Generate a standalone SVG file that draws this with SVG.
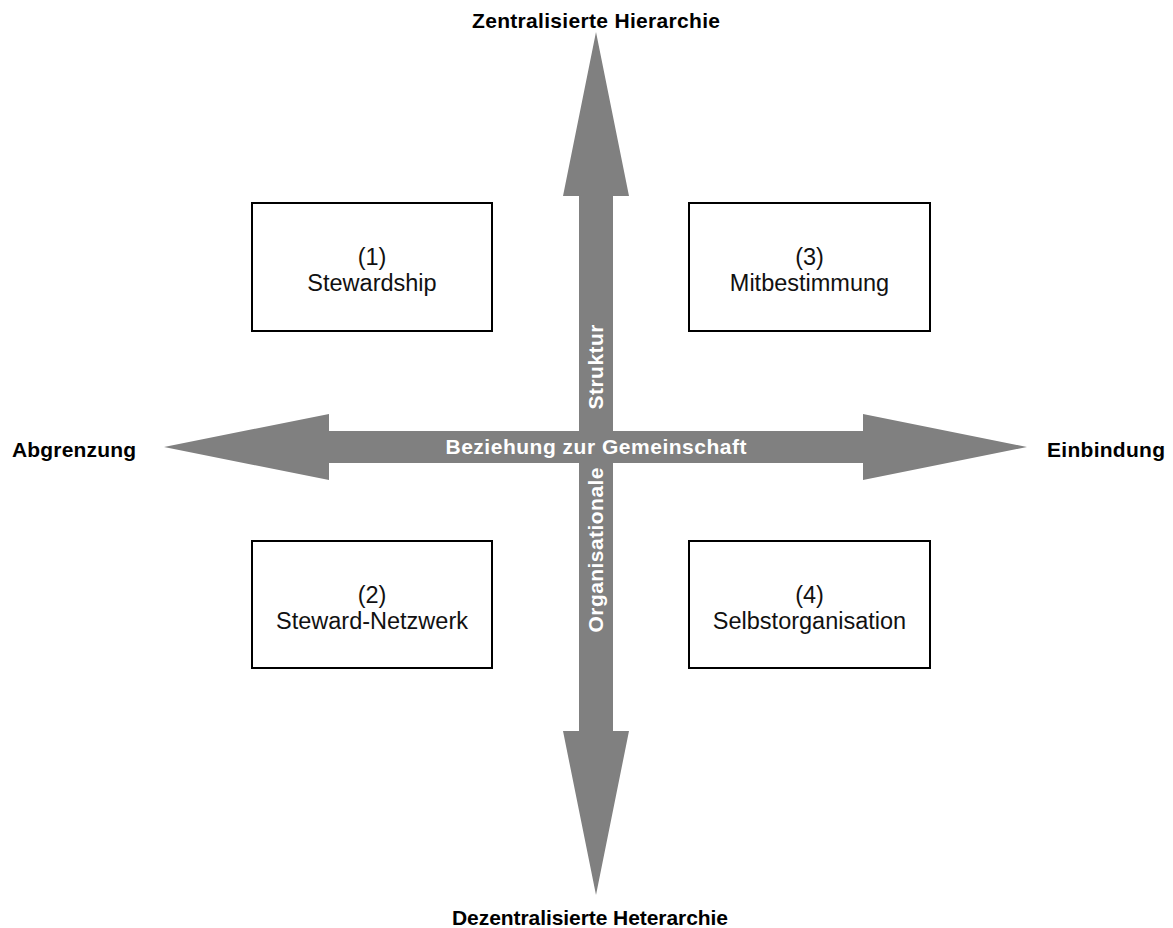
<svg xmlns="http://www.w3.org/2000/svg" width="1173" height="928" viewBox="0 0 1173 928">
<style>
.box{fill:#fff;stroke:#000;stroke-width:2}
.bt{font-family:"Liberation Sans",Arial,sans-serif;font-size:23.5px;fill:#111;text-anchor:middle}
.lab{font-family:"Liberation Sans",Arial,sans-serif;font-size:21px;font-weight:bold;fill:#000}
.al{font-family:"Liberation Sans",Arial,sans-serif;font-size:21px;font-weight:bold;fill:#fff;text-anchor:middle}
.arr{fill:#808080}
</style>
<rect width="1173" height="928" fill="#fff"/>
<g id="connectors">
<path class="arr" d="M596,32 L629,196 L613,196 L613,731 L629,731 L596,895 L563,731 L579,731 L579,196 L563,196 Z"/>
<path class="arr" d="M164,447 L329,414 L329,431 L863,431 L863,414 L1027,447 L863,480 L863,463 L329,463 L329,480 Z"/>
<text class="al" x="596" y="454" textLength="301" lengthAdjust="spacing">Beziehung zur Gemeinschaft</text>
<text class="al" transform="translate(603,367) rotate(-90)" x="0" y="0" textLength="85" lengthAdjust="spacing">Struktur</text>
<text class="al" transform="translate(603,550) rotate(-90)" x="0" y="0" textLength="165" lengthAdjust="spacing">Organisationale</text>
</g>
<g id="n1">
<rect class="box" x="252" y="203" width="240" height="128"/>
<text class="bt" x="372" y="265">(1)</text>
<text class="bt" x="372" y="291">Stewardship</text>
</g>
<g id="n3">
<rect class="box" x="689" y="203" width="241" height="128"/>
<text class="bt" x="809.5" y="265">(3)</text>
<text class="bt" x="809.5" y="291">Mitbestimmung</text>
</g>
<g id="n2">
<rect class="box" x="252" y="541" width="240" height="127"/>
<text class="bt" x="372" y="603">(2)</text>
<text class="bt" x="372" y="629">Steward-Netzwerk</text>
</g>
<g id="n4">
<rect class="box" x="689" y="541" width="241" height="127"/>
<text class="bt" x="809.5" y="603">(4)</text>
<text class="bt" x="809.5" y="629">Selbstorganisation</text>
</g>
<g id="labels">
<text class="lab" x="596" y="28" text-anchor="middle" textLength="248" lengthAdjust="spacing">Zentralisierte Hierarchie</text>
<text class="lab" x="590" y="925" text-anchor="middle" textLength="276" lengthAdjust="spacing">Dezentralisierte Heterarchie</text>
<text class="lab" x="12" y="457" textLength="124" lengthAdjust="spacing">Abgrenzung</text>
<text class="lab" x="1047" y="457" textLength="118" lengthAdjust="spacing">Einbindung</text>
</g>
</svg>
